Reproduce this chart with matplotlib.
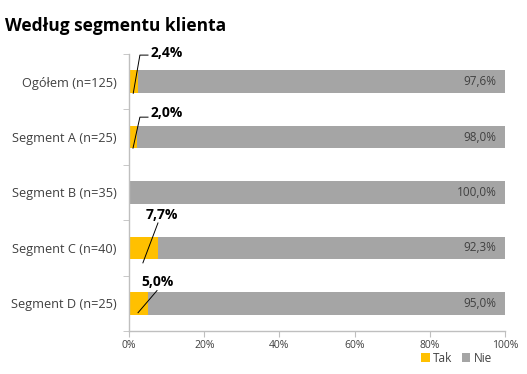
import matplotlib
matplotlib.use("Agg")
import matplotlib.pyplot as plt
from matplotlib import font_manager

names = {f.name for f in font_manager.fontManager.ttflist}
bold_ok = [f.name for f in font_manager.fontManager.ttflist if f.weight in (600, 700, "bold")]
fam = "Open Sans" if "Open Sans" in bold_ok else ("Lato" if "Lato" in names else "DejaVu Sans")
plt.rcParams['font.family'] = [fam, 'DejaVu Sans']

title = "Według segmentu klienta"
categories = ["Ogółem (n=125)", "Segment A (n=25)", "Segment B (n=35)",
              "Segment C (n=40)", "Segment D (n=25)"]
tak = [2.4, 2.0, 0.0, 7.7, 5.0]
nie = [97.6, 98.0, 100.0, 92.3, 95.0]
series_names = ["Tak", "Nie"]
xticks = [0, 20, 40, 60, 80, 100]
xtick_labels = ["0%", "20%", "40%", "60%", "80%", "100%"]

YELLOW = "#FFC000"
GRAY = "#A5A5A5"
AXIS = "#BFBFBF"
TEXT = "#404040"

fig = plt.figure(figsize=(5.27, 3.74), dpi=100)
ax = fig.add_axes([129/527, 1-331/374, (505-129)/527, (331-54)/374])

y = list(range(len(categories)))
h = 0.41
ax.barh(y, tak, height=h, color=YELLOW, label=series_names[0])
ax.barh(y, nie, left=tak, height=h, color=GRAY, label=series_names[1])

ax.set_xlim(0, 100)
ax.set_ylim(len(categories) - 0.5, -0.5)

for s in ["top", "right"]:
    ax.spines[s].set_visible(False)
for s in ["left", "bottom"]:
    ax.spines[s].set_color(AXIS)
    ax.spines[s].set_linewidth(1.0)

ax.set_xticks(xticks)
ax.set_xticklabels(xtick_labels, fontsize=7.5, color=TEXT)
ax.tick_params(axis="x", length=4, color=AXIS, pad=2.5)

ax.set_yticks(y)
ax.set_yticklabels(categories, fontsize=9.2, color=TEXT)
ax.tick_params(axis="y", which="major", length=0, pad=9)
ax.set_yticks([i + 0.5 for i in range(-1, len(categories))], minor=True)
ax.tick_params(axis="y", which="minor", length=4, color=AXIS)

for i, v in enumerate(nie):
    ax.text(tak[i] + v - 2.2, i, f"{v:.1f}%".replace(".", ","), ha="right",
            va="center", fontsize=8.5, color=TEXT)

leaders = {
    0: dict(start=(0.47, 0.21), end=(2.9, -0.48), hx=5.05, label=(5.6, -0.51), ha="left"),
    1: dict(start=(0.53, 0.2), end=(2.9, -0.36), hx=5.05, label=(5.6, -0.43), ha="left"),
    3: dict(start=(0.48, 0.27), end=(7.7, -0.45), hx=None, label=(8.8, -0.6), ha="center"),
    4: dict(start=(0.48, 0.17), end=(7.45, -0.23), hx=None, label=(7.45, -0.39), ha="center"),
}
for i, v in enumerate(tak):
    if v <= 0:
        continue
    L = leaders[i]
    sx = v * L["start"][0]
    sy = i + L["start"][1]
    ex = L["end"][0]
    ey = i + L["end"][1]
    xs = [sx, ex]
    ys = [sy, ey]
    if L["hx"] is not None:
        xs.append(L["hx"])
        ys.append(ey)
    ax.plot(xs, ys, color="black", lw=0.7, clip_on=False, zorder=5)
    ax.text(L["label"][0], i + L["label"][1], f"{v:.1f}%".replace(".", ","),
            ha=L["ha"], va="center", fontsize=10, fontweight="bold",
            color="black", clip_on=False, zorder=6)

fig.text(5/527, 1-26/374, title, fontsize=12.5, fontweight="bold",
         ha="left", va="center", color="black")

leg = fig.legend(loc="center right", bbox_to_anchor=(492/527, 1-358/374), ncol=2,
                 frameon=False, fontsize=8.5, handlelength=0.7, handleheight=0.7,
                 handletextpad=0.3, columnspacing=0.8, borderaxespad=0,
                 borderpad=0)
for t in leg.get_texts():
    t.set_color(TEXT)

fig.savefig("out.png", dpi=100)
